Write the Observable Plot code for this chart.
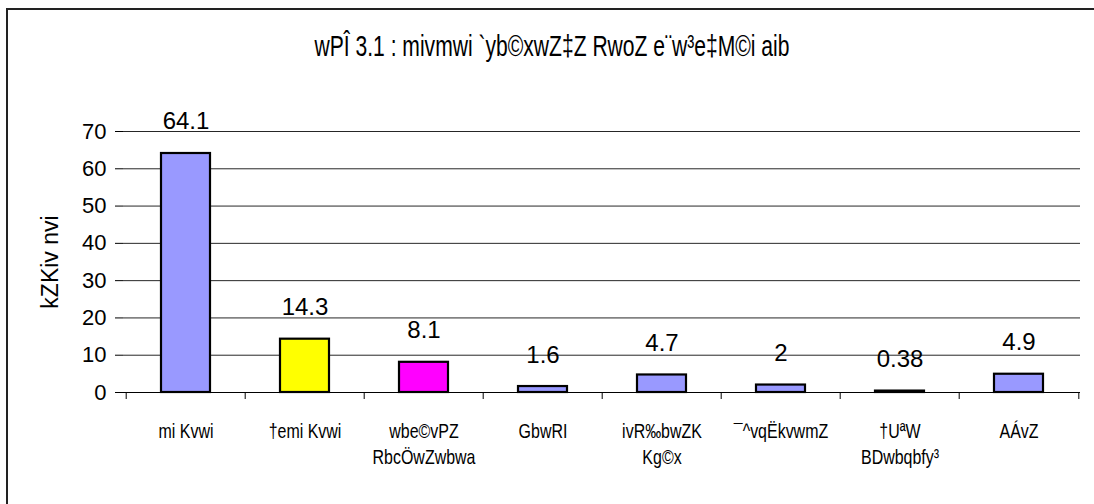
<!DOCTYPE html>
<html>
<head>
<meta charset="utf-8">
<script src="https://cdn.jsdelivr.net/npm/d3@7"></script>
<script src="https://cdn.jsdelivr.net/npm/@observablehq/plot@0.6"></script>
<style>
  html, body { margin: 0; padding: 0; background: #fff; }
  #wrap { position: relative; width: 1094px; height: 504px; overflow: hidden; background: #fff; }
  #border { position: absolute; left: 6px; top: 8px; width: 1100px; height: 520px; border-left: 2px solid #222; border-top: 2px solid #222; box-sizing: border-box; }
  #title { position: absolute; left: 0; top: 29px; width: 1104px; text-align: center;
           font-family: "Liberation Sans", Arial, sans-serif; line-height: 34px;
           font-size: 30px; color: #000; white-space: nowrap; }
  #title span { display: inline-block; transform-origin: 50% 50%; }
  #chart { position: absolute; left: 0; top: 0; }
</style>
</head>
<body>
<div id="wrap">
  <div id="chart"></div>
  <div id="border"></div>
  <div id="title"><span></span></div>
</div>
<script>
const titleText = "wPÎ 3.1 : mivmwi `yb©xwZ‡Z RwoZ e¨w³e‡M©i aib";
const yLabel = "kZKiv nvi";
const categories = ["mi Kvwi", "†emi Kvwi", "wbe©vPZ\nRbcÖwZwbwa", "GbwRI", "ivR‰bwZK\nKg©x", "¯^vqËkvwmZ", "†UªW\nBDwbqbfy³", "AÁvZ"];
const values = [64.1, 14.3, 8.1, 1.6, 4.7, 2, 0.38, 4.9];
const valueLabels = ["64.1", "14.3", "8.1", "1.6", "4.7", "2", "0.38", "4.9"];
const barColors = ["#9999FF", "#FFFF00", "#FF00FF", "#9999FF", "#9999FF", "#9999FF", "#9999FF", "#9999FF"];
const yTicks = [0, 10, 20, 30, 40, 50, 60, 70];

const data = categories.map((c, i) => ({cat: c, value: values[i], label: valueLabels[i], color: barColors[i]}));

const W = 1094, H = 504, mL = 123, mR = 14, mT = 131, mB = 112;
const step = (W - mL - mR) / categories.length;
const regular = '"Liberation Sans", Arial, sans-serif';

const boundaries = categories.map(c => ({cat: c, dx: -step / 2}))
  .concat([{cat: categories[categories.length - 1], dx: step / 2}]);

const chart = Plot.plot({
  width: W, height: H,
  marginLeft: mL, marginRight: mR, marginTop: mT, marginBottom: mB,
  style: {background: "transparent", fontFamily: regular, color: "#000", overflow: "visible"},
  x: {domain: categories, paddingInner: 0.59, paddingOuter: 0.295, axis: null},
  y: {domain: [0, 70], axis: null},
  marks: [
    Plot.ruleY(yTicks.filter(d => d > 0), {stroke: "#000", strokeWidth: 1, strokeOpacity: 0.85}),
    Plot.axisY(yTicks, {tickSize: 8, tickPadding: 9, fontSize: 22, fontFamily: regular, label: null, stroke: "#000"}),
    Plot.ruleX([0], {x: () => null, y1: 0, y2: 70, stroke: "#808080", strokeWidth: 1, frameAnchor: "left", insetBottom: -6}),
    Plot.barY(data, {x: "cat", y: "value", fill: "color", stroke: "#000", strokeWidth: 2.2}),
    Plot.ruleY([0], {stroke: "#000", strokeWidth: 1}),
    ...boundaries.map(b => Plot.ruleX([b.cat], {x: d => d, y1: 0, y2: 0, dx: b.dx, insetBottom: -7, stroke: "#000"})),
    Plot.axisX({tickSize: 0, tickPadding: 28, fontSize: 21, fontFamily: regular, label: null, lineHeight: 1.2}),
    Plot.text(data, {x: "cat", y: "value", text: "label", dy: -24, lineAnchor: "bottom", fontSize: 24, fontFamily: regular, fill: "#000", ariaLabel: "value-label"}),
    Plot.text([yLabel], {text: d => d, frameAnchor: "left", textAnchor: "middle", dx: -73, rotate: -90, fontSize: 23, fontFamily: regular, fill: "#000", ariaLabel: "y-label"})
  ]
});
document.getElementById("chart").appendChild(chart);

function condense(el, f) {
  const len = el.getComputedTextLength();
  if (len > 0) {
    el.setAttribute("textLength", (len * f).toFixed(2));
    el.setAttribute("lengthAdjust", "spacingAndGlyphs");
  }
}
function condenseAll(selector, f) {
  chart.querySelectorAll(selector).forEach(t => {
    const spans = t.querySelectorAll("tspan");
    if (spans.length) spans.forEach(s => condense(s, f)); else condense(t, f);
  });
}
condenseAll('g[aria-label="x-axis tick label"] text', 0.76);
condenseAll('g[aria-label="value-label"] text', 0.88);
condenseAll('g[aria-label="y-label"] text', 1.1);

const span = document.querySelector("#title span");
span.textContent = titleText;
const tw = span.getBoundingClientRect().width;
span.style.transform = `scaleX(${(475 / tw).toFixed(4)})`;
</script>
</body>
</html>
